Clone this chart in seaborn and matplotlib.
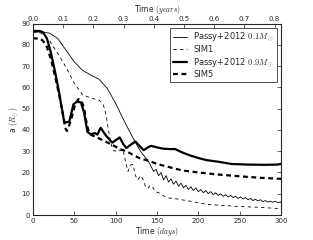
import numpy as np
import pandas as pd
import matplotlib
matplotlib.use("Agg")
import matplotlib.pyplot as plt
import seaborn as sns

# ---- data ----
p01_days = [0, 10, 20, 30, 40, 50, 60, 70, 80, 90, 100, 110, 120, 130, 140, 146,
            149, 152, 155, 158, 161, 164, 167, 170, 173, 176, 179, 182, 185, 188, 191, 194, 197,
            200, 203, 206, 209, 212, 215, 218, 221, 224, 227, 230, 233, 236, 239, 242, 245, 248,
            251, 254, 257, 260, 263, 266, 269, 272, 275, 278, 281, 284, 287, 290, 293, 296, 299, 300]
p01_a = [86, 86, 85.5, 83, 77.5, 72, 68, 65.8, 63.8, 59.5, 52.5, 44.5, 37, 30, 25, 20.5,
         21.5, 18.5, 20, 16.5, 18.5, 15.5, 17, 14.5, 16, 13.5, 15, 12.8, 14, 12, 13.3, 11.5, 12.7,
         11, 12, 10.5, 11.5, 10, 11, 9.6, 10.5, 9.2, 10, 8.8, 9.6, 8.5, 9.2, 8.2, 8.8, 7.8,
         8.5, 7.5, 8.2, 7.2, 7.8, 6.8, 7.4, 6.6, 7.2, 6.3, 6.8, 6.1, 6.5, 6, 6.5, 5.8, 6.2, 5.8]

sim1_days = [0, 10, 20, 25, 30, 40, 50, 60, 70, 80, 85, 88, 91, 94, 97, 100, 103, 106, 109,
             112, 115, 118, 121, 124, 127, 130, 133, 136, 139, 142, 145, 148, 152, 158, 165,
             175, 190, 210, 230, 250, 270, 300]
sim1_a = [86, 85.5, 82, 79, 76, 69.5, 62, 56.5, 55, 54, 52, 48, 41, 34, 30.5, 30, 30.8, 30.2, 30.8,
          25, 20.5, 23.5, 23.8, 18.5, 16.5, 18.5, 17, 13.5, 12.5, 14, 13, 11, 10.5, 9, 8,
          7.5, 6.5, 5, 4.5, 4, 3.7, 3]

p09_days = [0, 8, 12, 17, 22, 27, 32, 36, 38, 44, 49, 53, 58, 62, 66, 70, 75, 78, 82, 88, 96,
            105, 109, 113, 118, 124, 130, 134, 140, 143, 150, 157, 165, 172, 180, 190, 200,
            210, 225, 240, 260, 280, 295, 300]
p09_a = [86.5, 86.5, 86, 83, 76, 67, 57, 48, 43.5, 43.8, 52, 53.2, 53, 48, 39, 38, 38.5, 37.8,
         41, 37.5, 34, 36.5, 33.5, 31.5, 33, 34.5, 32, 30.5, 32, 32.5, 31.8, 31.2, 31, 31,
         29.5, 28, 26.8, 25.8, 25, 24, 23.7, 23.6, 23.7, 24]

sim5_days = [0, 8, 12, 17, 22, 27, 32, 37, 39, 41, 43, 47, 51, 55, 59, 62, 65, 68, 71, 75, 80,
             88, 96, 105, 113, 120, 130, 140, 150, 165, 180, 200, 225, 250, 275, 300]
sim5_a = [83, 83, 82, 79, 73, 65, 56, 46, 41, 39.5, 41, 46, 52, 54.5, 53.5, 50, 43, 38.5,
          37.5, 37, 36, 34.5, 33, 31, 30, 28.5, 26.5, 25.5, 24, 22.5, 21, 20, 19, 18.2,
          17.5, 17]

labels = [r"Passy+2012 $0.1M_\odot$", "SIM1", r"Passy+2012 $0.9M_\odot$", "SIM5"]
xticks_days = [0, 50, 100, 150, 200, 250, 300]
yticks = [0, 10, 20, 30, 40, 50, 60, 70, 80, 90]
xticks_years = [0.0, 0.1, 0.2, 0.3, 0.4, 0.5, 0.6, 0.7, 0.8]

# ---- plot ----
sns.set_style("white")
plt.rcParams["font.family"] = ["DejaVu Sans"]
plt.rcParams["mathtext.fontset"] = "cm"

fig = plt.figure(figsize=(3.13, 2.4), dpi=100)
ax = fig.add_axes([0.105, 0.104, 0.793, 0.798])

series = [
    (p01_days, p01_a, 0.6, "-"),
    (sim1_days, sim1_a, 0.6, (0, (4, 4))),
    (p09_days, p09_a, 1.6, "-"),
    (sim5_days, sim5_a, 1.6, (0, (2.2, 1.6))),
]
for (d, a, lw, ls), lab in zip(series, labels):
    df = pd.DataFrame({"days": d, "a": a})
    sns.lineplot(data=df, x="days", y="a", ax=ax, color="black", lw=lw,
                 linestyle=ls, label=lab)

ax.set_xlim(0, 300)
ax.set_ylim(0, 90)
ax.set_xticks(xticks_days)
ax.set_yticks(yticks)
ax.set_xlabel(r"Time $(days)$", fontsize=5.5, labelpad=1)
ax.set_ylabel(r"a $(R_\odot)$", fontsize=5.5, labelpad=1)
ax.tick_params(direction="in", length=3, width=0.5, labelsize=5, pad=2,
               right=True, top=False)
for s in ax.spines.values():
    s.set_linewidth(0.6)
    s.set_color("black")

ax2 = ax.twiny()
ax2.set_xlim(0, 300 / 365.25)
ax2.set_xticks(xticks_years)
ax2.set_xticklabels([f"{v:.1f}" for v in xticks_years])
ax2.set_xlabel(r"Time $(years)$", fontsize=5.5, labelpad=3)
ax2.tick_params(direction="in", length=3, width=0.5, labelsize=5, pad=1.2)

leg = ax.legend(loc="upper right", fontsize=6, frameon=True, fancybox=False,
                edgecolor="black", handlelength=1.7, borderpad=0.35,
                labelspacing=0.2, borderaxespad=0.5, handletextpad=0.7)
leg.get_frame().set_linewidth(0.6)

fig.savefig("out.png", dpi=100)
